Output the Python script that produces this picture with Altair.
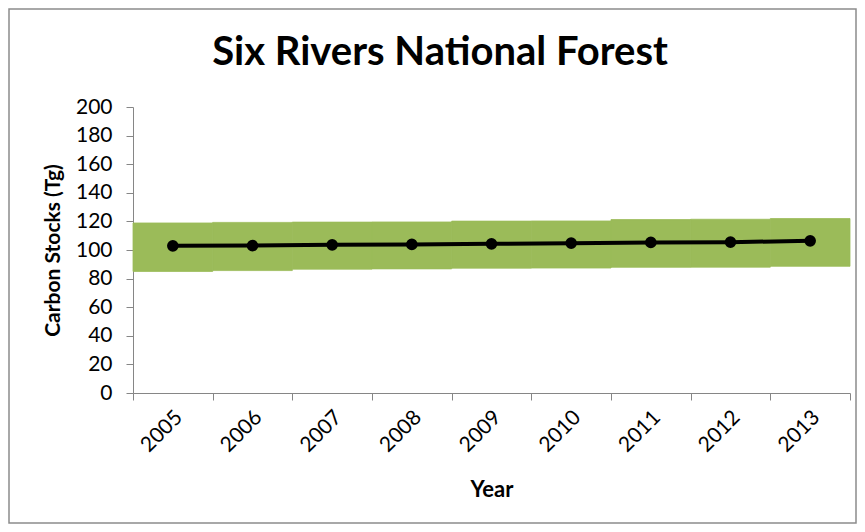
import altair as alt
import pandas as pd

years = ["2005", "2006", "2007", "2008", "2009", "2010", "2011", "2012", "2013"]
stock = [102.9, 103.1, 103.6, 103.9, 104.3, 104.8, 105.3, 105.5, 106.4]
low = [85.0, 85.6, 86.6, 86.8, 87.3, 87.4, 87.9, 88.0, 88.6]
high = [118.9, 119.3, 119.5, 119.6, 120.2, 120.3, 121.3, 121.5, 122.0]
y_ticks = list(range(0, 201, 20))
title_text = ["Six Rivers National Forest"]

df = pd.DataFrame({"Year": years, "Stock": stock, "Low": low, "High": high})

W, H = 717, 286
PAD = {"left": 125, "top": 99, "right": 7, "bottom": 131}

FONT = "Lato"
AXIS_GRAY = "#868686"
GREEN = "#9BBB59"

x_axis = alt.Axis(
    title="Year",
    titleFont=FONT,
    titleFontSize=22,
    titleFontWeight="bold",
    titleColor="#000000",
    titlePadding=24,
    labelFont=FONT,
    labelFontSize=21,
    labelColor="#000000",
    labelAngle=-45,
    labelAlign="right",
    labelBaseline="middle",
    labelOffset=6,
    labelPadding=14,
    labelOverlap=False,
    tickBand="extent",
    tickSize=7,
    tickColor=AXIS_GRAY,
    domainColor=AXIS_GRAY,
    grid=False,
)
x_scale = alt.Scale(paddingInner=0, paddingOuter=0)

y_scale = alt.Scale(domain=[0, 200], nice=False)
y_axis = alt.Axis(
    title="Carbon Stocks (Tg)",
    titleFont=FONT,
    titleFontSize=21,
    titleFontWeight="bold",
    titleColor="#000000",
    titlePadding=12,
    values=y_ticks,
    tickCount=11,
    labelFont=FONT,
    labelFontSize=21,
    labelColor="#000000",
    labelPadding=14,
    labelOverlap=False,
    tickSize=7,
    tickColor=AXIS_GRAY,
    domainColor=AXIS_GRAY,
    grid=False,
)

base = alt.Chart(df)
X = alt.X("Year:N", sort=years, scale=x_scale, axis=x_axis)

band = base.mark_bar(color=GREEN, stroke=GREEN, strokeWidth=0.8).encode(
    x=X,
    y=alt.Y("Low:Q", scale=y_scale, axis=y_axis),
    y2="High:Q",
)

line = base.mark_line(color="#000000", strokeWidth=4).encode(
    x=X,
    y=alt.Y("Stock:Q", scale=y_scale, axis=y_axis),
)

pts = base.mark_point(filled=True, color="#000000", size=135, opacity=1).encode(
    x=X,
    y=alt.Y("Stock:Q", scale=y_scale, axis=y_axis),
)

frame = alt.Chart(pd.DataFrame({"f": [0]})).mark_rect(
    fill="white", fillOpacity=0, stroke="#8c8c8c", strokeWidth=1.5
).encode(
    x=alt.value(-PAD["left"] + 1),
    x2=alt.value(W + PAD["right"] - 1),
    y=alt.value(-PAD["top"] + 1),
    y2=alt.value(H + PAD["bottom"] - 1),
)

title = alt.Chart(pd.DataFrame({"t": title_text})).mark_text(
    font=FONT, fontSize=40, fontWeight="bold", color="#000000",
    align="center", baseline="alphabetic",
).encode(
    text="t:N",
    x=alt.value(307),
    y=alt.value(-42),
)

chart = (
    alt.layer(band, line, pts, frame, title)
    .properties(
        width=W,
        height=H,
        autosize=alt.AutoSizeParams(type="none"),
        padding=PAD,
    )
    .configure_view(stroke=None)
)

chart.save("out.html", embed_options={"renderer": "svg", "actions": False})
